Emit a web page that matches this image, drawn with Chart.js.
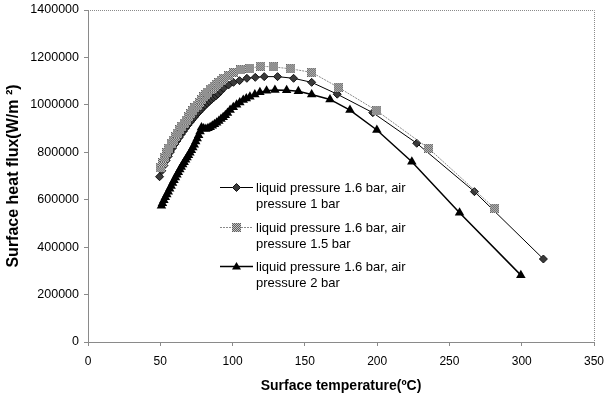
<!DOCTYPE html>
<html lang="en">
<head>
    <meta charset="UTF-8">
    <title>Surface heat flux vs surface temperature</title>
    <script src="https://cdn.jsdelivr.net/npm/chart.js"></script>
    <style>
        html, body { margin: 0; padding: 0; background: #fff; }
    </style>
</head>
<body>

<canvas id="fluxChart" width="607" height="397"></canvas>

<script>
    // Series labels (legend wraps them on two lines)
    let seriesNames = [
        ["liquid pressure 1.6 bar, air", "pressure 1 bar"],
        ["liquid pressure 1.6 bar, air", "pressure 1.5 bar"],
        ["liquid pressure 1.6 bar, air", "pressure 2 bar"]
    ];

    // Air pressure 1 bar (diamonds)
    let temp1 = [49.5, 51, 52.5, 54, 55.5, 57, 58.5, 60, 61.5, 63, 64.5, 66, 67.5, 69, 70.5, 72, 73.5, 75, 76.5, 78,
                 79.5, 81, 82.5, 84, 85.5, 87, 88.5, 90, 91.8, 93.7, 97.2, 100.6, 104.8, 109.9, 115.7, 121.9, 131.1,
                 142.2, 154.7, 172.4, 197, 227.4, 267.3, 315];
    let flux1 = [697000, 722000, 744000, 765000, 783000, 801000, 818000, 834000, 848000, 862000, 876000, 889000,
                 902000, 914000, 926000, 937000, 948000, 959000, 969000, 979000, 989000, 998000, 1007000, 1015000,
                 1023000, 1031000, 1038000, 1046000, 1058000, 1070000, 1084000, 1095000, 1102000, 1112000, 1116000,
                 1119000, 1119000, 1112000, 1095000, 1045000, 967000, 838000, 634000, 350000];

    // Air pressure 1.5 bar (grey squares)
    let temp2 = [50, 51.5, 53, 54.5, 56, 57.5, 59, 60.5, 62, 63.5, 65, 66.5, 68, 69.5, 71, 72.5, 74, 75.5, 77, 78.5,
                 80, 81.5, 83, 84.5, 86, 87.5, 89, 90.5, 92, 93.7, 97.2, 100.6, 105.6, 112, 119.4, 128.1, 140.2,
                 154.7, 173.1, 199.8, 235.5, 281.2];
    let flux2 = [735000, 757000, 779000, 799000, 817000, 835000, 851000, 866000, 881000, 895000, 910000, 923000,
                 936000, 950000, 963000, 975000, 987000, 999000, 1010000, 1022000, 1034000, 1044000, 1054000,
                 1063000, 1071000, 1079000, 1087000, 1094000, 1102000, 1112000, 1123000, 1137000, 1147000, 1154000,
                 1163000, 1160000, 1152000, 1137000, 1074000, 975000, 817000, 564000];

    // Air pressure 2 bar (triangles)
    let temp3 = [50.8, 51.5, 52.5, 53.5, 54.5, 55.5, 56.5, 57.5, 58.5, 59.5, 60.5, 61.5, 62.5, 63.5, 64.5, 65.5,
                 66.5, 67.5, 68.5, 69.5, 70.5, 71.5, 72.5, 73.5, 74.5, 75.5, 76.5, 77.5, 78.5, 80, 81.5, 83, 84.5,
                 86, 87.5, 89, 90.5, 92, 93.5, 95, 96.5, 98.3, 100.5, 102.8, 105, 107.4, 109.5, 112, 115.4, 118.9,
                 123.5, 129.3, 137.4, 145.5, 154.7, 167.4, 181.2, 199.8, 224, 257, 299.4];
    let flux3 = [575000, 585000, 598000, 610000, 622000, 634000, 646000, 658000, 670000, 682000, 694000, 705000,
                 716000, 727000, 738000, 748000, 758000, 768000, 778000, 788000, 798000, 809000, 820000, 832000,
                 845000, 858000, 872000, 888000, 905000, 900000, 898000, 901000, 906000, 912000, 918000, 925000,
                 932000, 940000, 948000, 956000, 966000, 978000, 990000, 1000000, 1010000, 1020000, 1027000,
                 1034000, 1044000, 1053000, 1060000, 1063000, 1062000, 1057000, 1044000, 1023000, 978000, 894000,
                 760000, 545000, 282000];

    let xTicks = [0, 50, 100, 150, 200, 250, 300, 350];
    let yTicks = [0, 200000, 400000, 600000, 800000, 1000000, 1200000, 1400000];

    const FONT = "'Liberation Sans', Arial, sans-serif";

    function toPoints(xs, ys) {
        return xs.map((x, i) => ({ x: x, y: ys[i] }));
    }

    // Checkered grey square marker, like the old spreadsheet pattern fill
    function makeSquareMarker() {
        let c = document.createElement("canvas");
        c.width = 9;
        c.height = 9;
        let g = c.getContext("2d");
        g.fillStyle = "#c4c4c4";
        g.fillRect(0, 0, 9, 9);
        g.fillStyle = "#5e5e5e";
        for (let i = 0; i < 9; i++) {
            for (let j = 0; j < 9; j++) {
                if ((i + j) % 2 === 0) g.fillRect(i, j, 1, 1);
            }
        }
        return c;
    }
    let squareMarker = makeSquareMarker();

    // Draw a marker by hand for the legend
    function drawMarker(ctx, ds, x, y) {
        ctx.save();
        ctx.setLineDash([]);
        if (ds.pointStyle === "rectRot") {
            let r = 4;
            ctx.beginPath();
            ctx.moveTo(x, y - r);
            ctx.lineTo(x + r, y);
            ctx.lineTo(x, y + r);
            ctx.lineTo(x - r, y);
            ctx.closePath();
            ctx.fillStyle = ds.pointBackgroundColor;
            ctx.fill();
            ctx.strokeStyle = ds.pointBorderColor;
            ctx.lineWidth = 1;
            ctx.stroke();
        } else if (ds.pointStyle === "triangle") {
            ctx.beginPath();
            ctx.moveTo(x, y - 4.5);
            ctx.lineTo(x + 4.5, y + 3);
            ctx.lineTo(x - 4.5, y + 3);
            ctx.closePath();
            ctx.fillStyle = ds.pointBackgroundColor;
            ctx.fill();
        } else {
            ctx.drawImage(squareMarker, Math.round(x - 4.5), Math.round(y - 4.5));
        }
        ctx.restore();
    }

    // Legend inside the plot, with two-line labels
    const boxLegend = {
        id: "boxLegend",
        afterDraw(chart) {
            let ctx = chart.ctx;
            let rowY = [187, 227, 266];
            chart.data.datasets.forEach((ds, i) => {
                let y = rowY[i];
                ctx.save();
                ctx.strokeStyle = ds.borderColor;
                ctx.lineWidth = ds.borderWidth;
                ctx.setLineDash(ds.borderDash || []);
                ctx.beginPath();
                ctx.moveTo(220, y + 0.5);
                ctx.lineTo(253, y + 0.5);
                ctx.stroke();
                ctx.restore();
                drawMarker(ctx, ds, 236.5, y + 0.5);

                ctx.save();
                ctx.fillStyle = "#000";
                ctx.font = "13px " + FONT;
                ctx.textBaseline = "middle";
                ctx.textAlign = "left";
                seriesNames[i].forEach((line, k) => {
                    ctx.fillText(line, 256, y + 1 + k * 16);
                });
                ctx.restore();
            });
        }
    };

    // Dotted frame on top and right of the plot area
    const plotFrame = {
        id: "plotFrame",
        beforeDatasetsDraw(chart) {
            let a = chart.chartArea;
            let ctx = chart.ctx;
            ctx.save();
            ctx.strokeStyle = "#8a8a8a";
            ctx.lineWidth = 1;
            ctx.setLineDash([1, 1]);
            ctx.beginPath();
            ctx.moveTo(a.left, a.top + 0.5);
            ctx.lineTo(a.right + 0.5, a.top + 0.5);
            ctx.lineTo(a.right + 0.5, a.bottom);
            ctx.stroke();
            ctx.restore();
        }
    };

    let ctx = document.getElementById("fluxChart").getContext("2d");

    new Chart(ctx, {
        type: "line",
        data: {
            datasets: [
                {
                    label: seriesNames[0].join(" "),
                    data: toPoints(temp1, flux1),
                    borderColor: "#000",
                    borderWidth: 1,
                    pointStyle: "rectRot",
                    pointRadius: 4,
                    pointBackgroundColor: "#3a3a3a",
                    pointBorderColor: "#111",
                    pointBorderWidth: 1,
                    order: 2
                },
                {
                    label: seriesNames[1].join(" "),
                    data: toPoints(temp2, flux2),
                    borderColor: "#8a8a8a",
                    borderWidth: 1,
                    borderDash: [2, 1],
                    pointStyle: squareMarker,
                    pointRadius: 4.5,
                    order: 1
                },
                {
                    label: seriesNames[2].join(" "),
                    data: toPoints(temp3, flux3),
                    borderColor: "#000",
                    borderWidth: 1.5,
                    pointStyle: "triangle",
                    pointRadius: 5.5,
                    pointBackgroundColor: "#000",
                    pointBorderColor: "#000",
                    pointBorderWidth: 0,
                    order: 3
                }
            ]
        },
        options: {
            responsive: false,
            animation: false,
            layout: { padding: { left: 0, right: 13, top: 10, bottom: 0 } },
            plugins: {
                legend: { display: false },
                tooltip: { enabled: false }
            },
            scales: {
                x: {
                    type: "linear",
                    min: 0,
                    max: 350,
                    afterBuildTicks: (scale) => { scale.ticks = xTicks.map(v => ({ value: v })); },
                    afterFit: (scale) => {
                        scale.height = 55;
                        scale.paddingLeft = 0;
                        scale.paddingRight = 0;
                    },
                    ticks: {
                        color: "#000",
                        font: { family: FONT, size: 12 },
                        padding: 8,
                        maxRotation: 0
                    },
                    grid: { drawOnChartArea: false, tickLength: 4, color: "#8a8a8a" },
                    border: { color: "#8a8a8a", dash: [1, 1] },
                    title: {
                        display: true,
                        text: "Surface temperature(ºC)",
                        color: "#000",
                        font: { family: FONT, size: 14, weight: "bold" },
                        padding: { top: 0, bottom: 2 }
                    }
                },
                y: {
                    min: 0,
                    max: 1400000,
                    afterBuildTicks: (scale) => { scale.ticks = yTicks.map(v => ({ value: v })); },
                    afterFit: (scale) => {
                        scale.width = 88;
                        scale.paddingTop = 0;
                        scale.paddingBottom = 0;
                    },
                    ticks: {
                        color: "#000",
                        font: { family: FONT, size: 12.5 },
                        padding: 5,
                        callback: (v) => String(v)
                    },
                    grid: { drawOnChartArea: false, tickLength: 4, color: "#8a8a8a" },
                    border: { color: "#8a8a8a", dash: [1, 1] },
                    title: {
                        display: true,
                        text: "Surface heat flux(W/m ²)",
                        color: "#000",
                        font: { family: FONT, size: 16, weight: "bold" },
                        padding: { top: 4, bottom: 0 }
                    }
                }
            }
        },
        plugins: [plotFrame, boxLegend]
    });
</script>

</body>
</html>
